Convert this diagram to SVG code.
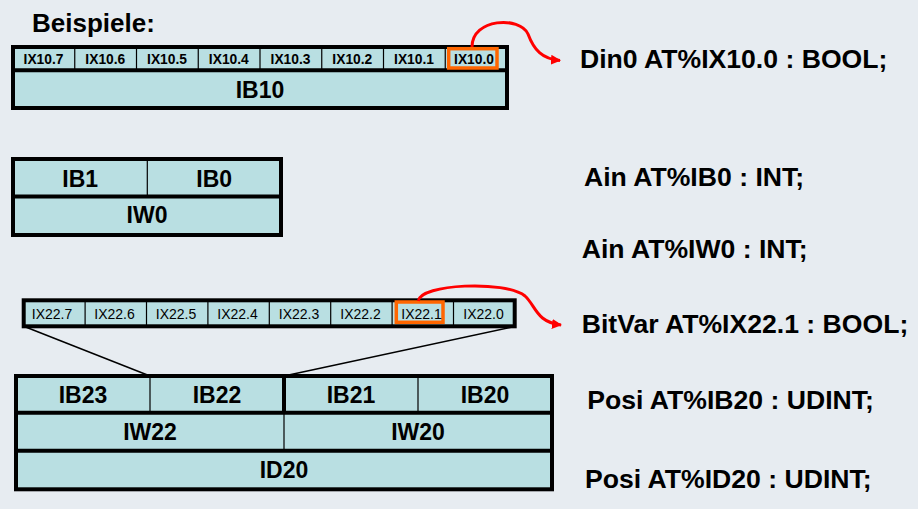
<svg xmlns="http://www.w3.org/2000/svg" width="918" height="509" viewBox="0 0 918 509">
<style>
.bg{fill:#e7ecf1}
.cell{fill:#b9dfe2;stroke:none}
.frame{fill:none;stroke:#000;stroke-width:4}
.thick{stroke:#000;stroke-width:4}
.thin{stroke:#000;stroke-width:1.2}
.hl{fill:none;stroke:#ff6600;stroke-width:3.5}
.t{font-family:"Liberation Sans",Arial,sans-serif;fill:#000}
.big{font-size:23px;font-weight:bold;text-anchor:middle}
.bitb{font-size:13.8px;font-weight:bold;text-anchor:middle}
.bit{font-size:14px;text-anchor:middle}
.decl{font-size:26.6px;font-weight:bold}
.con{fill:none;stroke:#000;stroke-width:1.5}
.red{fill:none;stroke:#ff0000;stroke-width:3}
</style>
<defs>
<marker id="ah" markerWidth="10" markerHeight="10" refX="9" refY="5" orient="auto" markerUnits="userSpaceOnUse">
<path d="M0,0 L10,5 L0,10 Z" fill="#ff0000"/>
</marker>
</defs>
<rect class="bg" x="0" y="0" width="918" height="509"/>

<g id="title">
<text class="t decl" x="32" y="32" style="font-size:26px">Beispiele:</text>
</g>

<g id="ib10">
<rect class="cell" x="13" y="47" width="494" height="61"/>
<line class="thick" x1="13" y1="70.3" x2="507" y2="70.3"/>
<line class="thin" x1="74.75" y1="47" x2="74.75" y2="70.3"/>
<line class="thin" x1="136.5" y1="47" x2="136.5" y2="70.3"/>
<line class="thin" x1="198.25" y1="47" x2="198.25" y2="70.3"/>
<line class="thin" x1="260" y1="47" x2="260" y2="70.3"/>
<line class="thin" x1="321.75" y1="47" x2="321.75" y2="70.3"/>
<line class="thin" x1="383.5" y1="47" x2="383.5" y2="70.3"/>
<line class="thin" x1="445.25" y1="47" x2="445.25" y2="70.3"/>
<rect class="frame" x="13" y="47" width="494" height="61"/>
<rect class="hl" x="448.7" y="48.7" width="48.3" height="19.3"/>
<text class="t bitb" x="43.5" y="64">IX10.7</text>
<text class="t bitb" x="105.3" y="64">IX10.6</text>
<text class="t bitb" x="167" y="64">IX10.5</text>
<text class="t bitb" x="228.8" y="64">IX10.4</text>
<text class="t bitb" x="290.5" y="64">IX10.3</text>
<text class="t bitb" x="352.3" y="64">IX10.2</text>
<text class="t bitb" x="414" y="64">IX10.1</text>
<text class="t bitb" x="474" y="64">IX10.0</text>
<text class="t big" x="260" y="98">IB10</text>
</g>

<g id="iw0">
<rect class="cell" x="13" y="159" width="268" height="76"/>
<line class="thick" x1="13" y1="196.5" x2="281" y2="196.5"/>
<line class="thin" x1="147.3" y1="159" x2="147.3" y2="196.5"/>
<rect class="frame" x="13" y="159" width="268" height="76"/>
<text class="t big" x="80.2" y="186.7">IB1</text>
<text class="t big" x="214.2" y="186.7">IB0</text>
<text class="t big" x="147" y="223.3">IW0</text>
</g>

<g id="ib22bits">
<rect class="cell" x="23.7" y="300.3" width="491" height="26"/>
<line class="thin" x1="85.1" y1="300.3" x2="85.1" y2="326.3"/>
<line class="thin" x1="146.5" y1="300.3" x2="146.5" y2="326.3"/>
<line class="thin" x1="207.9" y1="300.3" x2="207.9" y2="326.3"/>
<line class="thin" x1="269.3" y1="300.3" x2="269.3" y2="326.3"/>
<line class="thin" x1="330.7" y1="300.3" x2="330.7" y2="326.3"/>
<line class="thin" x1="392.1" y1="300.3" x2="392.1" y2="326.3"/>
<line class="thin" x1="453.5" y1="300.3" x2="453.5" y2="326.3"/>
<rect class="frame" x="23.7" y="300.3" width="491" height="26"/>
<rect class="hl" x="396.3" y="302" width="46.7" height="20.3"/>
<text class="t bit" x="52" y="318.5">IX22.7</text>
<text class="t bit" x="114.5" y="318.5">IX22.6</text>
<text class="t bit" x="176" y="318.5">IX22.5</text>
<text class="t bit" x="237.5" y="318.5">IX22.4</text>
<text class="t bit" x="299" y="318.5">IX22.3</text>
<text class="t bit" x="360.5" y="318.5">IX22.2</text>
<text class="t bit" x="421.5" y="318.5">IX22.1</text>
<text class="t bit" x="483.5" y="318.5">IX22.0</text>
</g>

<g id="id20">
<rect class="cell" x="16" y="376" width="536" height="113.3"/>
<line class="thick" x1="16" y1="412.7" x2="552" y2="412.7"/>
<line class="thick" x1="16" y1="450.7" x2="552" y2="450.7"/>
<line class="thin" x1="150" y1="376" x2="150" y2="412.7"/>
<line class="thick" x1="284" y1="376" x2="284" y2="412.7"/>
<line class="thin" x1="418" y1="376" x2="418" y2="412.7"/>
<line class="thin" x1="284" y1="412.7" x2="284" y2="450.7"/>
<rect class="frame" x="16" y="376" width="536" height="113.3"/>
<text class="t big" x="83" y="402.8">IB23</text>
<text class="t big" x="217" y="402.8">IB22</text>
<text class="t big" x="351" y="402.8">IB21</text>
<text class="t big" x="485" y="402.8">IB20</text>
<text class="t big" x="150" y="440">IW22</text>
<text class="t big" x="418" y="440">IW20</text>
<text class="t big" x="284" y="478.3">ID20</text>
</g>

<g id="declarations">
<text class="t decl" x="580" y="67.7">Din0 AT%IX10.0 : BOOL;</text>
<text class="t decl" x="584" y="186">Ain AT%IB0 : INT;</text>
<text class="t decl" x="581.7" y="258.3">Ain AT%IW0 : INT;</text>
<text class="t decl" x="581.7" y="332.7">BitVar AT%IX22.1 : BOOL;</text>
<text class="t decl" x="587.3" y="409.3">Posi AT%IB20 : UDINT;</text>
<text class="t decl" x="585" y="488.3">Posi AT%ID20 : UDINT;</text>
</g>

<g id="connectors">
<line class="con" x1="23.7" y1="326.3" x2="150" y2="376"/>
<line class="con" x1="512" y1="327" x2="284" y2="376"/>
<path class="red" d="M472,47 C472,18 520,16 528,34 C534,50 542,59 560,60.5" marker-end="url(#ah)"/>
<path class="red" d="M418.3,301 C420,284 505,280 525,296 C536,306 536,322 561,325" marker-end="url(#ah)"/>
</g>
</svg>
